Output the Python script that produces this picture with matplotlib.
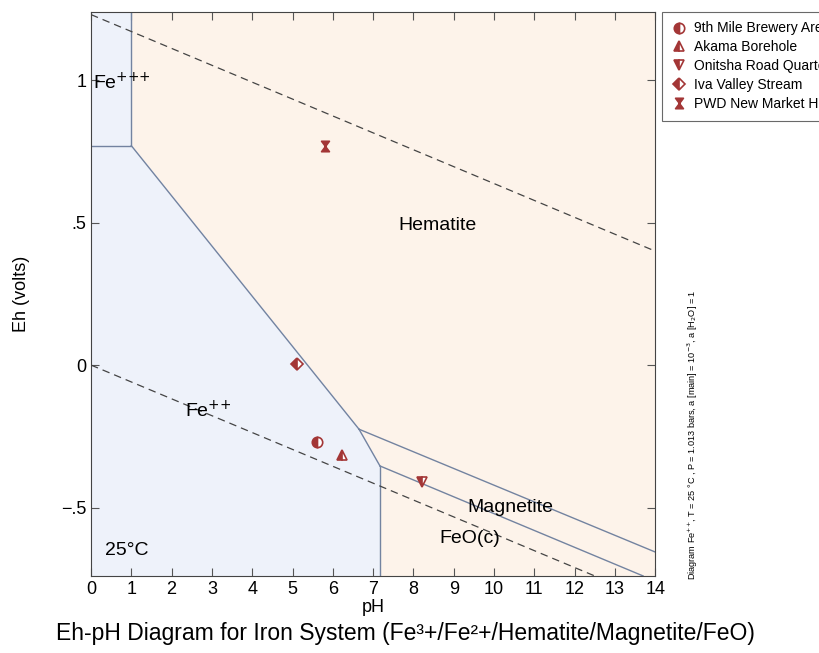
import numpy as np
from matplotlib import pyplot as plt
from matplotlib.path import Path

plt.rcParams['font.family'] = ['Liberation Sans', 'DejaVu Sans']

# axis range
phMin, phMax = 0, 14
ehMin, ehMax = -0.74, 1.24

# field boundaries (pH, Eh)
fe3Fe2 = [(0, 0.77), (1, 0.77), (1, ehMax)]
hemFe2 = [(1, 0.77), (6.65, -0.225)]
magFe2 = [(6.65, -0.225), (7.17, -0.354)]
feoFe2 = [(7.17, -0.354), (7.17, ehMin)]
hemMag = [(6.65, -0.225), (14, -0.656)]
magFeo = [(7.17, -0.354), (13.7, ehMin)]

# water stability lines
waterPh = [0, 14]
o2Line = [1.23, 0.40]
h2Line = [0, -0.8288]

# samples
sampleNames = ["9th Mile Brewery Area", "Akama Borehole", "Onitsha Road Quarters",
               "Iva Valley Stream", "PWD New Market HD"]
samplePh = [5.61, 6.23, 8.21, 5.11, 5.81]
sampleEh = [-0.27, -0.316, -0.41, 0.003, 0.768]

hourglass = Path([(-0.75, 1), (0.75, 1), (-0.75, -1), (0.75, -1), (-0.75, 1)],
                 [Path.MOVETO, Path.LINETO, Path.LINETO, Path.LINETO, Path.CLOSEPOLY])
sampleMarkers = ['o', '^', 'v', 'D', hourglass]
sampleSizes = [7.5, 7.5, 7.5, 6.5, 7.5]

blue = '#eef2fa'
peach = '#fdf3ea'
edge = '#7383a0'
red = '#a33636'

fig = plt.figure(figsize=(8.2, 6.53), dpi=100)
ax = fig.add_axes([0.111, 0.118, 0.688, 0.864])
ax.set_facecolor(peach)

# blue fields for the dissolved iron
fe3Poly = [(0, 0.77), (1, 0.77), (1, ehMax), (0, ehMax)]
fe2Poly = [(0, ehMin), feoFe2[1], feoFe2[0], magFe2[0], hemFe2[0], (0, 0.77)]
ax.fill([p[0] for p in fe3Poly], [p[1] for p in fe3Poly], color=blue, zorder=1)
ax.fill([p[0] for p in fe2Poly], [p[1] for p in fe2Poly], color=blue, zorder=1)

for seg in [fe3Fe2, hemFe2, magFe2, feoFe2, hemMag, magFeo]:
    ax.plot([p[0] for p in seg], [p[1] for p in seg], color=edge, lw=1.0, zorder=2)

ax.plot(waterPh, o2Line, color='#444444', lw=0.9, ls=(0, (6, 4)), zorder=2)
ax.plot(waterPh, h2Line, color='#444444', lw=0.9, ls=(0, (6, 4)), zorder=2)

for i in range(len(sampleNames)):
    fs = 'full' if i == 4 else 'left'
    ax.plot(samplePh[i], sampleEh[i], ls='none', marker=sampleMarkers[i],
            ms=sampleSizes[i], color=red, mec=red, mfc=red, mfcalt='white',
            fillstyle=fs, mew=1.2, label=sampleNames[i], zorder=4)

# field labels
ax.text(0.05, 0.99, "Fe$^{{+}{+}{+}}$", fontsize=14, va='center', ha='left')
ax.text(8.6, 0.49, "Hematite", fontsize=14, va='center', ha='center')
ax.text(2.9, -0.16, "Fe$^{{+}{+}}$", fontsize=14, va='center', ha='center')
ax.text(10.4, -0.5, "Magnetite", fontsize=14, va='center', ha='center')
ax.text(9.4, -0.61, "FeO(c)", fontsize=14, va='center', ha='center')
ax.text(0.35, -0.65, "25°C", fontsize=14, va='center', ha='left')

ax.set_xlim(phMin, phMax)
ax.set_ylim(ehMin, ehMax)
ax.set_xticks(range(0, 15))
ax.set_yticks([-0.5, 0, 0.5, 1])
ax.set_yticklabels(["\u2212.5", "0", ".5", "1"])
ax.tick_params(direction='in', top=True, right=True, labelsize=13, length=6,
               color='#555555')
for s in ax.spines.values():
    s.set_color('#444444')
ax.set_xlabel("pH", fontsize=13, labelpad=1)
ax.set_ylabel("Eh (volts)", fontsize=13, labelpad=22)

# legend runs past the right edge of the figure, as in the original
leg = ax.legend(loc='upper left', bbox_to_anchor=(1.012, 1.0), fontsize=10,
                frameon=True, fancybox=False, edgecolor='#444444', handlelength=1.0,
                handletextpad=0.6, labelspacing=0.35, borderpad=0.7, borderaxespad=0)
leg.get_frame().set_linewidth(0.8)

fig.text(0.845, 0.334, "Diagram Fe$^{{+}{+}}$, T = 25 °C , P = 1.013 bars, a [main] = 10$^{-3}$, a [H$_2$O] = 1",
         rotation=90, fontsize=6.6, va='center', ha='center')

fig.text(0.495, 0.03, "Eh-pH Diagram for Iron System (Fe³+/Fe²+/Hematite/Magnetite/FeO)",
         fontsize=16.5, ha='center', va='center')

fig.savefig("out.png", dpi=100)
